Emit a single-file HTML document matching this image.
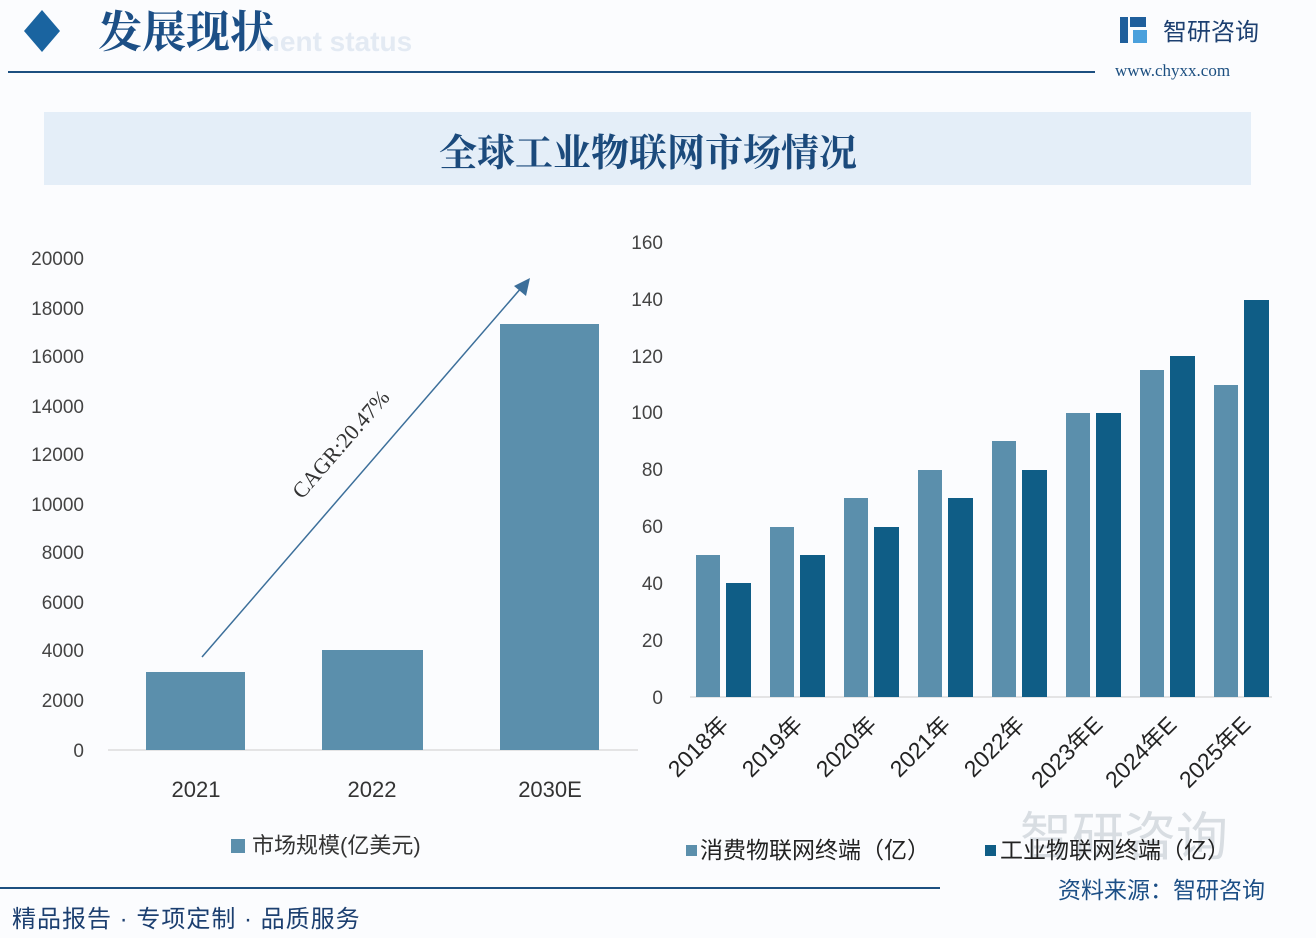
<!DOCTYPE html>
<html><head><meta charset="utf-8"><style>
body{margin:0;width:1316px;height:938px;background:#fcfdfe;overflow:hidden;font-family:"Liberation Sans","Noto Sans CJK SC",sans-serif}
</style></head><body>
<svg width="1316" height="938" xmlns="http://www.w3.org/2000/svg" style="position:absolute;left:0;top:0">
<rect width="1316" height="938" fill="#fbfcfe"/>
<polygon points="42,10 60,31 42,52 24,31" fill="#1a64a0"/>
<text x="255" y="51" font-size="28" fill="#e3eaf3" font-weight="bold">ment status</text>
<text x="98" y="47" font-size="44" fill="#1c4f86" font-family="Noto Serif CJK SC,serif" font-weight="bold">发展现状</text>
<line x1="8" y1="72" x2="1095" y2="72" stroke="#1c4f80" stroke-width="2"/>
<rect x="1120" y="17" width="8" height="26" fill="#1f5f9c"/><rect x="1130" y="17" width="16" height="10" fill="#1f5f9c"/><rect x="1133" y="30" width="14" height="13" fill="#4aa0dc"/>
<text x="1163" y="40" font-size="24" fill="#1c3f70">智研咨询</text>
<text x="1115" y="76" font-size="17" fill="#1c4f80" font-family="Liberation Serif,serif">www.chyxx.com</text>
<rect x="44" y="112" width="1207" height="73" fill="#e4eef8"/>
<text x="648" y="166" font-size="38" fill="#1b4a7c" text-anchor="middle" font-family="Noto Serif CJK SC,serif" font-weight="bold">全球工业物联网市场情况</text>
<g font-size="19" fill="#444" text-anchor="end">
<text x="84" y="265">20000</text><text x="84" y="315">18000</text><text x="84" y="363">16000</text><text x="84" y="413">14000</text><text x="84" y="461">12000</text><text x="84" y="511">10000</text><text x="84" y="559">8000</text><text x="84" y="609">6000</text><text x="84" y="657">4000</text><text x="84" y="707">2000</text><text x="84" y="757">0</text>
</g>
<line x1="108" y1="750" x2="638" y2="750" stroke="#ccc"/>
<g fill="#5b8fac"><rect x="146" y="672" width="99" height="78"/><rect x="322" y="650" width="101" height="100"/><rect x="500" y="324" width="99" height="426"/></g>
<g font-size="22" fill="#333" text-anchor="middle"><text x="196" y="797">2021</text><text x="372" y="797">2022</text><text x="550" y="797">2030E</text></g>
<line x1="202" y1="657" x2="522" y2="287" stroke="#3c6f9a" stroke-width="1.5"/>
<polygon points="530,278 526,296 514,286" fill="#3c6f9a"/>
<text x="0" y="0" font-size="22" fill="#333" font-family="Liberation Serif,serif" transform="translate(302,500) rotate(-49)">CAGR:20.47%</text>
<rect x="231" y="839" width="14" height="14" fill="#5b8fac"/>
<text x="252" y="853" font-size="22" fill="#333">市场规模(亿美元)</text>
<g font-size="19" fill="#444" text-anchor="end">
<text x="663" y="249">160</text><text x="663" y="306">140</text><text x="663" y="363">120</text><text x="663" y="419">100</text><text x="663" y="476">80</text><text x="663" y="533">60</text><text x="663" y="590">40</text><text x="663" y="647">20</text><text x="663" y="704">0</text>
</g>
<line x1="690" y1="697" x2="1272" y2="697" stroke="#ccc"/>
<g fill="#5b8fac">
<rect x="696" y="555" width="24" height="142"/><rect x="770" y="527" width="24" height="170"/><rect x="844" y="498" width="24" height="199"/><rect x="918" y="470" width="24" height="227"/><rect x="992" y="441" width="24" height="256"/><rect x="1066" y="413" width="24" height="284"/><rect x="1140" y="370" width="24" height="327"/><rect x="1214" y="385" width="24" height="312"/>
</g>
<g fill="#0f5d86">
<rect x="726" y="583" width="25" height="114"/><rect x="800" y="555" width="25" height="142"/><rect x="874" y="527" width="25" height="170"/><rect x="948" y="498" width="25" height="199"/><rect x="1022" y="470" width="25" height="227"/><rect x="1096" y="413" width="25" height="284"/><rect x="1170" y="356" width="25" height="341"/><rect x="1244" y="300" width="25" height="397"/>
</g>
<g font-size="23" fill="#222" text-anchor="end">
<text transform="translate(730,726) rotate(-45)">2018年</text>
<text transform="translate(804,726) rotate(-45)">2019年</text>
<text transform="translate(878,726) rotate(-45)">2020年</text>
<text transform="translate(952,726) rotate(-45)">2021年</text>
<text transform="translate(1026,726) rotate(-45)">2022年</text>
<text transform="translate(1104,726) rotate(-45)">2023年E</text>
<text transform="translate(1178,726) rotate(-45)">2024年E</text>
<text transform="translate(1252,726) rotate(-45)">2025年E</text>
</g>
<text x="1020" y="855" font-size="52" fill="#d8dde2">智研咨询</text>
<rect x="686" y="845" width="11" height="11" fill="#5b8fac"/>
<text x="700" y="858" font-size="23" fill="#222">消费物联网终端（亿）</text>
<rect x="985" y="845" width="11" height="11" fill="#0f5d86"/>
<text x="1000" y="858" font-size="23" fill="#222">工业物联网终端（亿）</text>
<line x1="0" y1="888" x2="940" y2="888" stroke="#1c4f80" stroke-width="2"/>
<text x="1058" y="898" font-size="23" fill="#1c4f86">资料来源：智研咨询</text>
<text x="12" y="927" font-size="24" fill="#1c3f70" letter-spacing="1">精品报告 · 专项定制 · 品质服务</text>
</svg>
</body></html>
